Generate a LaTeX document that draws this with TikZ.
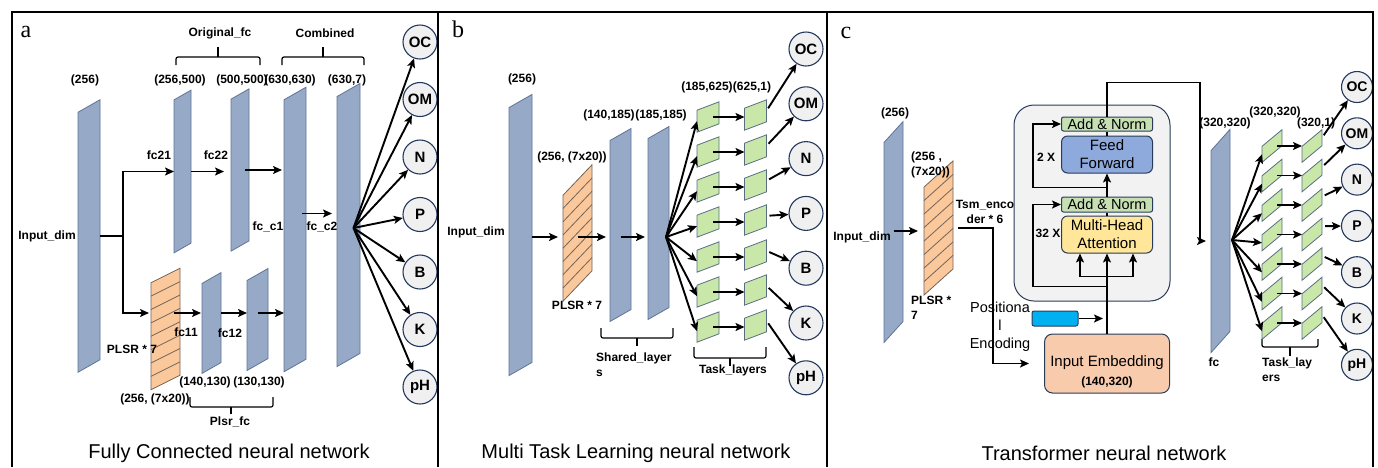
\documentclass[tikz,border=0pt]{standalone}
\usepackage{fontspec}
\setmainfont{Liberation Sans}
\newfontfamily\panelfont{Liberation Serif}
\usepackage{tikz}
\usetikzlibrary{positioning, arrows.meta, shapes, calc}
\usepackage{xcolor}

\definecolor{layerfill}{RGB}{150,170,199}
\definecolor{layerline}{RGB}{95,115,150}
\definecolor{plsrfill}{RGB}{250,200,155}
\definecolor{plsrline}{RGB}{115,100,90}
\definecolor{taskfill}{RGB}{200,231,168}
\definecolor{taskline}{RGB}{90,110,130}
\definecolor{outfill}{RGB}{240,240,240}
\definecolor{outedge}{RGB}{35,55,95}
\definecolor{normfill}{RGB}{198,224,180}
\definecolor{fffill}{RGB}{142,169,219}
\definecolor{mhafill}{RGB}{255,230,153}
\definecolor{encfill}{RGB}{242,242,242}
\definecolor{posfill}{RGB}{0,176,240}
\definecolor{embfill}{RGB}{248,203,173}
\definecolor{boxline}{RGB}{40,60,90}

\begin{document}
\begin{tikzpicture}[x=1pt, y=-1pt,
  fclayer/.style={draw=layerline, fill=layerfill, line width=0.8pt, inner sep=0pt, outer sep=0pt, minimum width=22pt, yslant=0.57},
  plsr/.style={draw=plsrline, fill=plsrfill, line width=0.8pt, inner sep=0pt, outer sep=0pt, minimum width=29pt, minimum height=107pt, yslant=0.5},
  task/.style={draw=taskline, fill=taskfill, line width=0.8pt, inner sep=0pt, outer sep=0pt, minimum width=22pt, minimum height=22pt, yslant=0.38},
  target/.style={circle, draw=outedge, fill=outfill, line width=1.1pt, inner sep=0pt, minimum size=34pt, font=\bfseries\fontsize{15}{15}\selectfont},
  lbl/.style={font=\bfseries\fontsize{12}{15}\selectfont, inner sep=0pt},
  caption/.style={font=\fontsize{20}{24}\selectfont, inner sep=0pt},
  letter/.style={font=\panelfont\fontsize{24}{24}\selectfont, inner sep=0pt},
  arr/.style={-{Stealth[length=9pt, width=8pt, inset=2pt]}, line width=1.9pt},
  wire/.style={line width=1.9pt},
  bracket/.style={line width=1.2pt, rounded corners=2pt},
  stripe/.style={draw=plsrline, line width=0.8pt},
  block/.style={draw=boxline, line width=1pt, rounded corners=6pt, inner sep=0pt, minimum width=91pt, align=center, font=\fontsize{15}{18}\selectfont}]
\useasboundingbox (0,0) rectangle (1378,467);

% ---- a: fully connected ----
\node[letter] (la) at (26,32) {a};
\node[fclayer, minimum height=260pt] (ina) at (89,236) {};
\node[fclayer, minimum width=17pt, minimum height=153pt] (fc21) at (182.5,171.5) {};
\node[fclayer, minimum width=18pt, minimum height=152pt] (fc22) at (240,170) {};
\node[fclayer, minimum height=272pt] (fcc1) at (295,229.5) {};
\node[fclayer, minimum width=23pt, minimum height=270pt] (fcc2) at (348.5,225) {};
\node[plsr] (plsra) at (165.5,329) {};
\foreach \k in {1,...,7}
  \draw[stripe] ($(plsra.south west)!\k/8!(plsra.north west)$) -- ($(plsra.south east)!\k/8!(plsra.north east)$);
\node[fclayer, minimum width=19pt, minimum height=90pt] (fc11) at (211.5,323) {};
\node[fclayer, minimum width=21pt, minimum height=90pt] (fc12) at (257.5,319.5) {};
% labels
\node[lbl] (da) at (85,80) {(256)};
\node[lbl] (d21) at (180,80) {(256,500)};
\node[lbl] (d22) at (242,80) {(500,500)};
\node[lbl] (dc1) at (290,80) {(630,630)};
\node[lbl] (dc2) at (347,80) {(630,7)};
\node[lbl] (dima) at (47,236) {Input\_dim};
\node[lbl] (n21) at (159,155) {fc21};
\node[lbl] (n22) at (216,155) {fc22};
\node[lbl] (nc1) at (268,227) {fc\_c1};
\node[lbl] (nc2) at (322,227) {fc\_c2};
\node[lbl] (pla) at (132,349) {PLSR * 7};
\node[lbl] (n11) at (186,332) {fc11};
\node[lbl] (n12) at (230,333) {fc12};
\node[lbl] (dpa) at (155,399) {(256, (7x20))};
\node[lbl] (d11) at (205,382) {(140,130)};
\node[lbl] (d12) at (259,382) {(130,130)};
% braces
\draw[bracket] (176,65) |- (218,57) -| (260,65);
\draw[bracket] (218,57) -- (218,47);
\node[lbl] (ofc) at (220,33) {Original\_fc};
\draw[bracket] (282,65) |- (323,57) -| (364,65);
\draw[bracket] (323,57) -- (323,47);
\node[lbl] (comb) at (325,33) {Combined};
\draw[bracket] (190,397) |- (231,407) -| (273,397);
\draw[bracket] (231,407) -- (231,414);
\node[lbl] (plfc) at (230,422) {Plsr\_fc};
% connections
\coordinate (lowa) at (0,313);
\draw[arr] (ina.center -| ina.east) -- ++(23,0) coordinate (splita) |- (fc21.center -| fc21.west);
\draw[arr, shorten >=2pt] (splita) |- (lowa -| plsra.west);
\draw[arr, shorten >=7pt] (fc21.center -| fc21.east) -- (fc21.center -| fc22.west);
\draw[arr, shorten >=2pt] ($(fc22.center)+(5,0)$) -- (fc22.center -| fcc1.west);
\coordinate (c12) at ($(fcc1.center)+(7,-16)$);
\draw[arr, shorten >=5pt] (c12) -- (c12 -| fcc2.west);
\draw[arr, shorten >=1pt] ($(lowa -| plsra.center)+(8,0)$) -- (lowa -| fc11.west);
\draw[arr] (lowa -| fc11.east) -- (lowa -| fc12.west);
\draw[arr] (lowa -| fc12.center) -- (lowa -| fcc1.west);
% outputs
\coordinate (fa) at ($(fcc2.center)+(5,3)$);
\foreach \lab [count=\i] in {OC,OM,N,P,B,K,pH}
  \node[target] (ta\i) at (420,{-15.5+57.5*\i}) {\lab};
\foreach \i in {1,...,7}
  \draw[arr] (fa) -- (ta\i);
\node[caption] (capa) at (229,453) {Fully Connected neural network};

% ---- b: multi task ----
\node[letter] (lb) at (458,29) {b};
\node[fclayer, minimum width=23pt, minimum height=268pt] (inb) at (520.5,235) {};
\node[plsr, yslant=0.55, minimum height=106pt] (plsrb) at (577.5,233) {};
\foreach \k in {1,...,7}
  \draw[stripe] ($(plsrb.south west)!\k/8!(plsrb.north west)$) -- ($(plsrb.south east)!\k/8!(plsrb.north east)$);
\node[fclayer, minimum width=21pt, minimum height=181pt] (sh1) at (620.5,225) {};
\node[fclayer, minimum width=21pt, minimum height=181pt] (sh2) at (658.5,223) {};
\node[lbl] (db) at (522,79) {(256)};
\node[lbl] (dimb) at (476,232) {Input\_dim};
\node[lbl] (dpb) at (572,157) {(256, (7x20))};
\node[lbl] (plb) at (577,305) {PLSR * 7};
\node[lbl] (ds1) at (609,115) {(140,185)};
\node[lbl] (ds2) at (661,115) {(185,185)};
\node[lbl] (dt1) at (707,87) {(185,625)};
\node[lbl] (dt2) at (752,87) {(625,1)};
\draw[bracket] (601,328) |- (637,338) -| (673,328);
\draw[bracket] (637,338) -- (637,346);
\node[lbl, anchor=west, align=left] (shl) at (596,364.5) {Shared\_layer\\s};
\draw[bracket] (694,347) |- (730,358) -| (766,347);
\draw[bracket] (730,358) -- (730,366);
\node[lbl] (tlb) at (733,370) {Task\_layers};
\coordinate (rowb) at (0,237);
\draw[arr, shorten >=5pt] (rowb -| inb.east) -- (rowb -| plsrb.west);
\draw[arr, shorten >=4pt] (rowb -| plsrb.center) -- (rowb -| sh1.west);
\draw[arr, shorten >=3pt] (rowb -| sh1.center) -- (rowb -| sh2.west);
\coordinate (fb) at ($(rowb -| sh2.east)+(-3,0)$);
\foreach \lab [count=\i] in {OC,OM,N,P,B,K,pH}
  \node[target] (tb\i) at (806,{-5.8+54.8*\i}) {\lab};
\foreach \i in {1,...,7}{
  \node[task] (pb\i) at (708,{82+35*\i}) {};
  \node[task] (qb\i) at (755.5,{80+35*\i}) {};
  \draw[arr] (fb) -- (pb\i.west);
  \draw[arr, shorten <=5pt] (pb\i.center) -- (pb\i.center -| qb\i.west);
  \draw[arr, shorten <=3pt] (qb\i.east) -- (tb\i);
}
\node[caption] (capb) at (636,453) {Multi Task Learning neural network};

% ---- c: transformer ----
\node[letter] (lc) at (846,33) {c};
\node[fclayer, minimum width=19pt, minimum height=200pt, yslant=0.53] (inc) at (893.5,232) {};
\node[plsr, yslant=0.4, minimum height=108pt] (plsrc) at (938.5,228) {};
\foreach \k in {1,...,7}
  \draw[stripe] ($(plsrc.south west)!\k/8!(plsrc.north west)$) -- ($(plsrc.south east)!\k/8!(plsrc.north east)$);
\node[lbl] (dimc) at (862,237) {Input\_dim};
\node[lbl] (dc) at (895,113) {(256)};
\node[lbl, anchor=west, align=left] (dpc) at (911,165) {(256 ,\\(7x20))};
\node[lbl, anchor=west, align=left] (plc) at (911,308) {PLSR *\\7};
\node[lbl, align=center] (tsm) at (985,212) {Tsm\_enco\\der * 6};
\coordinate (rowc) at (0,231);
\draw[arr, shorten >=6pt] (rowc -| inc.center) -- (rowc -| plsrc.west);
% encoder block
\node[draw=boxline, fill=encfill, line width=1pt, rounded corners=20pt, minimum width=156pt, minimum height=196pt] (enc) at (1092,203) {};
\node[lbl] (two) at (1046,157) {2 X};
\node[lbl] (thirty) at (1048,233) {32 X};
\node[block, fill=normfill, rounded corners=2pt, minimum height=14pt, font=\fontsize{14.5}{16}\selectfont] (an2) at (1107,124) {Add \& Norm};
\node[block, fill=fffill, minimum height=37pt] (ff) at (1107,154.5) {Feed\\Forward};
\node[block, fill=normfill, rounded corners=2pt, minimum height=15pt, font=\fontsize{14.5}{16}\selectfont] (an1) at (1107,204.5) {Add \& Norm};
\node[block, fill=mhafill, minimum height=37pt] (mha) at (1107,234.5) {Multi-Head\\Attention};
\node[block, fill=embfill, rounded corners=8pt, minimum width=125pt, minimum height=59pt] (emb) at (1107,363.5) {};
\node[font=\fontsize{15}{18}\selectfont, inner sep=0pt] (embt) at ($(emb.center)+(0,-1)$) {Input Embedding};
\node[lbl] (embd) at ($(emb.center)+(0,19)$) {(140,320)};
\node[draw=boxline, fill=posfill, line width=1pt, rounded corners=2pt, minimum width=46pt, minimum height=15pt, inner sep=0pt] (pe) at (1055,318.5) {};
\node[font=\fontsize{14.5}{18}\selectfont, align=center, inner sep=0pt] (pet) at (1000,327) {Positiona\\l\\Encoding};
% encoder wiring
\draw[arr, shorten >=15pt] ($(plsrc.center -| plsrc.east)+(5,0)$) -- ++(35,0) |- (emb.west);
\coordinate (qkv) at ($(emb.north)+(0,-57)$);
\draw[wire] (emb.north) -- (qkv);
\draw[arr] (qkv) -- (mha.south);
\draw[arr] (qkv) -| ($(mha.south)+(-27,0)$);
\draw[arr] (qkv) -| ($(mha.south)+(26,0)$);
\draw[arr] ($(emb.north)+(0,-47)$) -| ($(an1.west)+(-28,0)$) -- (an1.west);
\draw[wire] (mha) -- (an1);
\draw[arr] (an1) -- (ff);
\draw[arr] ($(an1.north)+(0,-9)$) -| ($(an2.west)+(-28,0)$) -- (an2.west);
\draw[wire] (ff) -- (an2);
\draw[arr, shorten >=4pt] (pe.east) -- (pe.east -| emb.north);
% task layers
\node[fclayer, minimum width=19pt, minimum height=202pt, yslant=0.55] (fcl) at (1220.5,241) {};
\draw[arr, shorten >=5pt] (an2.north) -- ++(0,-34) -| ($(fcl.center -| fcl.west)+(-11,0)$) -- (fcl.center -| fcl.west);
\node[lbl] (dfc) at (1225,123) {(320,320)};
\node[lbl] (dtc1) at (1275,112) {(320,320)};
\node[lbl] (dtc2) at (1316,123) {(320,1)};
\node[lbl] (nfc) at (1214,362) {fc};
\draw[bracket] (1262,339) |- (1290,347) -| (1318,339);
\draw[bracket] (1290,347) -- (1290,356);
\node[lbl, anchor=west, align=left] (tlc) at (1262,369.5) {Task\_lay\\ers};
\coordinate (fcfan) at ($(fcl.center -| fcl.east)+(2,-1)$);
\foreach \lab [count=\i] in {OC,OM,N,P,B,K,pH}
  \node[target, minimum size=31pt, font=\bfseries\fontsize{14}{14}\selectfont] (tc\i) at (1357,{40.7+46.3*\i}) {\lab};
\foreach \i in {1,...,7}{
  \node[task, minimum width=20pt, minimum height=16pt, yslant=0.45] (pc\i) at (1272,{116.5+29.5*\i}) {};
  \node[task, minimum width=20pt, minimum height=16pt, yslant=0.45] (qc\i) at (1312,{116.5+29.5*\i}) {};
  \draw[arr] (fcfan) -- (pc\i.west);
  \draw[arr, shorten <=5pt] (pc\i.center) -- (pc\i.center -| qc\i.west);
  \draw[arr, shorten <=3pt] (qc\i.east) -- (tc\i);
}
\node[caption] (capc) at (1104,453) {Transformer neural network};

% ---- frame ----
\draw[line width=1.2pt] (12,467) -- (12,12) -- (1373,12) -- (1373,467);
\draw[line width=1.2pt] (438,12) -- (438,467);
\draw[line width=1.2pt] (827,12) -- (827,467);
\end{tikzpicture}
\end{document}
